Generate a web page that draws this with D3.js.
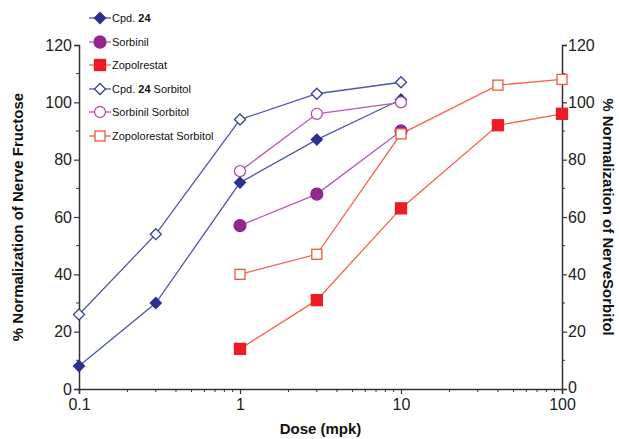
<!DOCTYPE html>
<html><head><meta charset="utf-8">
<script src="https://cdn.jsdelivr.net/npm/d3@7"></script>
<style>body{margin:0;background:#fff}svg{display:block}text{font-family:"Liberation Sans",Arial,sans-serif}</style>
</head><body><svg id="c" width="619" height="439"></svg>
<script>
const xTicks=[0.1,1,10,100];
const yTicks=[0,20,40,60,80,100,120];
const cpd24Dose=[0.1,0.3,1,3,10];
const cpd24=[8,30,72,87,101];
const sorbinilDose=[1,3,10];
const sorbinil=[57,68,90];
const zopolDose=[1,3,10,40,100];
const zopol=[14,31,63,92,96];
const cpd24Sorb=[26,54,94,103,107];
const sorbinilSorb=[76,96,100];
const zopolSorb=[40,47,89,106,108];

const series=[
 {name:"Cpd. ",bold:"24",after:"",x:cpd24Dose,y:cpd24,shape:"diamond",fill:true,line:"#5257ad",mark:"#2b2f8e"},
 {name:"Sorbinil",bold:"",after:"",x:sorbinilDose,y:sorbinil,shape:"circle",fill:true,line:"#b55ab5",mark:"#93278f"},
 {name:"Zopolrestat",bold:"",after:"",x:zopolDose,y:zopol,shape:"square",fill:true,line:"#f26549",mark:"#ec1c24"},
 {name:"Cpd. ",bold:"24",after:" Sorbitol",x:cpd24Dose,y:cpd24Sorb,shape:"diamond",fill:false,line:"#5257ad",mark:"#3a3f9e"},
 {name:" Sorbinil Sorbitol",bold:"",after:"",x:sorbinilDose,y:sorbinilSorb,shape:"circle",fill:false,line:"#b55ab5",mark:"#b24ea8"},
 {name:"Zopolorestat Sorbitol",bold:"",after:"",x:zopolDose,y:zopolSorb,shape:"square",fill:false,line:"#f26549",mark:"#f15a3a"}
];

const svg=d3.select("#c");
const L=79,R=562,T=45,B=389;
const x=d3.scaleLog().domain([0.1,100]).range([L,R]);
const y=d3.scaleLinear().domain([0,120]).range([B,T]);

function sym(g,shape,cx,cy,fill,color){
  if(shape==="diamond"){
    g.append("path").attr("d",`M${cx},${cy-5.5}L${cx+5.5},${cy}L${cx},${cy+5.5}L${cx-5.5},${cy}Z`)
     .attr("fill",fill?color:"#fff").attr("stroke",color).attr("stroke-width",1.3);
  }else if(shape==="circle"){
    g.append("circle").attr("cx",cx).attr("cy",cy).attr("r",fill?6:5.5)
     .attr("fill",fill?color:"#fff").attr("stroke",color).attr("stroke-width",1.3);
  }else{
    const s=fill?11:10;
    g.append("rect").attr("x",cx-s/2).attr("y",cy-s/2).attr("width",s).attr("height",s)
     .attr("fill",fill?color:"#fff").attr("stroke",color).attr("stroke-width",1.3);
  }
}

// axes
const axL=d3.axisLeft(y).tickValues(yTicks).tickSize(5).tickPadding(2).tickFormat(d3.format("d"));
const gL=svg.append("g").attr("transform",`translate(${L},0)`).call(axL);
const axR=d3.axisRight(y).tickValues(yTicks).tickSize(5).tickPadding(1).tickFormat(d3.format("d"));
const gR=svg.append("g").attr("transform",`translate(${R},0)`).call(axR);
const axB=d3.axisBottom(x).tickValues(xTicks).tickSize(5).tickPadding(5).tickFormat(d=>String(d));
const gB=svg.append("g").attr("transform",`translate(0,${B})`).call(axB);
[gL,gR,gB].forEach(g=>{
  g.selectAll("path.domain").attr("stroke","#333").attr("stroke-width",1.5);
  g.selectAll(".tick line").attr("stroke","#333").attr("stroke-width",1.2);
  g.selectAll(".tick text").attr("font-size",16).attr("fill","#222");
});
gR.selectAll(".tick").filter(d=>d===0).select("text").attr("dy","0.2em");
// minor ticks
const minorY=d3.range(10,120,20);
svg.append("g").selectAll("line").data(minorY).join("line")
  .attr("x1",L-3).attr("x2",L).attr("y1",d=>y(d)).attr("y2",d=>y(d)).attr("stroke","#333");
svg.append("g").selectAll("line").data(minorY).join("line")
  .attr("x1",R).attr("x2",R+3).attr("y1",d=>y(d)).attr("y2",d=>y(d)).attr("stroke","#333");
const minorX=[];[0.1,1,10].forEach(b=>{for(let k=2;k<=9;k++)minorX.push(b*k);});
svg.append("g").selectAll("line").data(minorX).join("line")
  .attr("x1",d=>x(d)).attr("x2",d=>x(d)).attr("y1",B).attr("y2",B+3).attr("stroke","#333");

// series
const line=d3.line().x(d=>x(d[0])).y(d=>y(d[1]));
series.forEach(s=>{
  const pts=s.x.map((v,i)=>[v,s.y[i]]);
  svg.append("path").attr("d",line(pts)).attr("fill","none").attr("stroke",s.line).attr("stroke-width",1.3);
});
series.forEach(s=>{
  const g=svg.append("g");
  s.x.forEach((v,i)=>sym(g,s.shape,x(v),y(s.y[i]),s.fill,s.mark));
});

// legend
const lg=svg.append("g");
const rowsY=[18,42,65,89,112,136];
series.forEach((s,i)=>{
  const cy=rowsY[i];
  lg.append("line").attr("x1",89).attr("x2",111).attr("y1",cy).attr("y2",cy).attr("stroke",s.line).attr("stroke-width",1.3);
  sym(lg,s.shape,100,cy,s.fill,s.mark);
  const t=lg.append("text").attr("x",112).attr("y",cy+4).attr("font-size",11).attr("fill","#111");
  t.append("tspan").text(s.name);
  if(s.bold)t.append("tspan").attr("font-weight","bold").text(s.bold);
  if(s.after)t.append("tspan").text(s.after);
});

// titles
svg.append("text").attr("transform",`translate(23,${(T+B)/2}) rotate(-90)`).attr("text-anchor","middle")
 .attr("font-size",15).attr("font-weight","bold").attr("fill","#111").text("% Normalization of Nerve Fructose");
svg.append("text").attr("transform",`translate(603,${(T+B)/2}) rotate(90)`).attr("text-anchor","middle")
 .attr("font-size",15).attr("font-weight","bold").attr("fill","#111").text("% Normalization of NerveSorbitol");
svg.append("text").attr("x",(L+R)/2).attr("y",434).attr("text-anchor","middle")
 .attr("font-size",15).attr("font-weight","bold").attr("fill","#111").text("Dose (mpk)");
</script></body></html>
